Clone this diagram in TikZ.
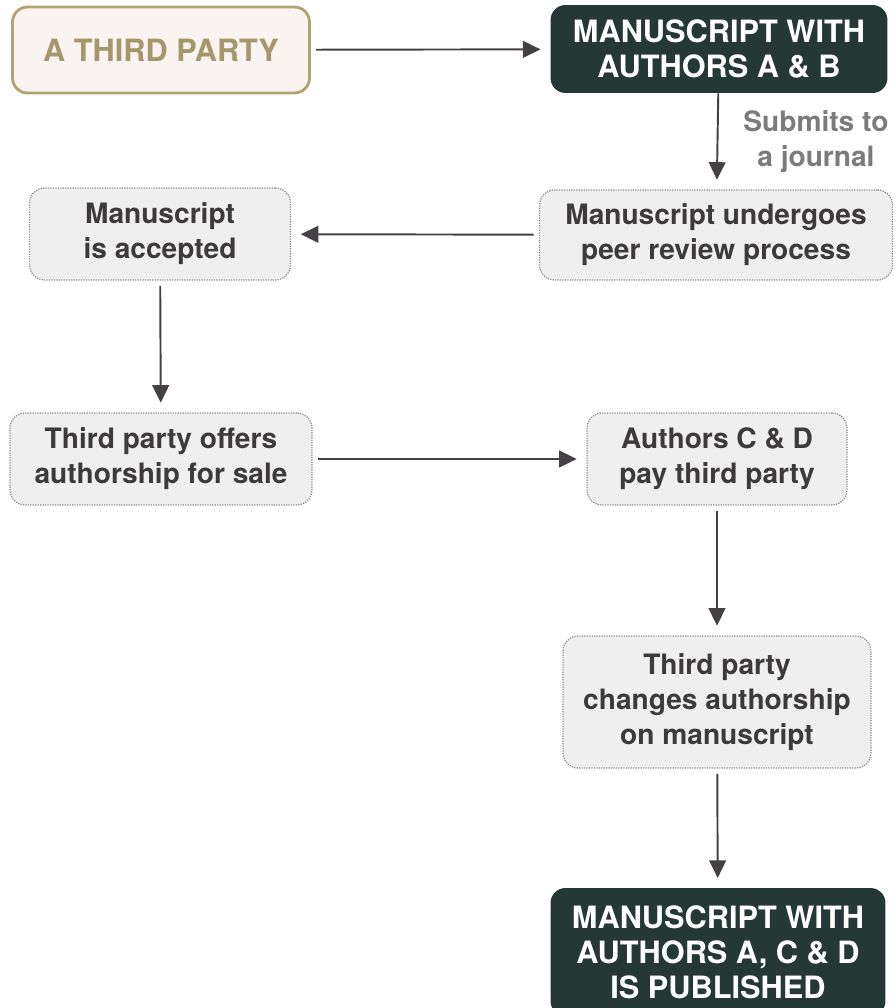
\documentclass[tikz,border=0pt]{standalone}
\usepackage{fontspec}
\setmainfont{TeX Gyre Heros}
\usetikzlibrary{arrows.meta}
\definecolor{darkbox}{HTML}{243835}
\definecolor{partyfill}{HTML}{F9F3F2}
\definecolor{partyline}{HTML}{B3A36E}
\definecolor{partytext}{HTML}{A6976A}
\definecolor{stepfill}{HTML}{EFEFEF}
\definecolor{stepline}{HTML}{8A8A8A}
\definecolor{steptext}{HTML}{3D3A3B}
\definecolor{arrowcol}{HTML}{454043}
\definecolor{labelcol}{HTML}{7B7B7B}
\begin{document}
\begin{tikzpicture}[x=0.02cm,y=-0.02cm,
    box/.style={rounded corners=0.3cm,align=center,inner sep=0pt,
      font=\bfseries\fontsize{17.5}{20}\selectfont},
    stepbox/.style={box,fill=stepfill,draw=stepline,line width=0.7pt,
      dash pattern=on 0.7pt off 0.7pt,text=steptext,
      font=\bfseries\fontsize{16}{20}\selectfont},
    darkbox/.style={box,fill=darkbox,text=white},
    flow/.style={draw=arrowcol,line width=1.1pt,-{Triangle[length=10pt,width=9.5pt]},
      shorten <=3pt,shorten >=5.5pt}]
  \useasboundingbox (0,0) rectangle (895,1008);
  \clip (0,0) rectangle (895,1008);
  \node[box,fill=partyfill,draw=partyline,line width=1.6pt,text=partytext,
    minimum width=5.94cm,minimum height=1.72cm] (party) at (161,50) {A THIRD PARTY};
  \node[darkbox,minimum width=6.74cm,minimum height=1.76cm] (msab) at (719,49)
    {MANUSCRIPT WITH\\AUTHORS A \& B};
  \node[stepbox,minimum width=7.06cm,minimum height=1.8cm] (review) at (716,235)
    {Manuscript undergoes\\peer review process};
  \node[stepbox,minimum width=5.22cm,minimum height=1.84cm] (accepted) at (160,234)
    {Manuscript\\is accepted};
  \node[stepbox,minimum width=6.04cm,minimum height=1.84cm] (offers) at (161,459)
    {Third party offers\\authorship for sale};
  \node[stepbox,minimum width=5.2cm,minimum height=1.84cm] (pay) at (717,459)
    {Authors C \& D\\pay third party};
  \node[stepbox,minimum width=6.16cm,minimum height=2.64cm] (changes) at (717,702)
    {Third party\\changes authorship\\on manuscript};
  \node[darkbox,minimum width=6.7cm,minimum height=2.56cm] (published) at (718,952)
    {MANUSCRIPT WITH\\AUTHORS A, C \& D\\IS PUBLISHED};
  \draw[flow] (party) -- (msab);
  \draw[flow,shorten <=0pt] (msab) -- node[right=0.5cm,inner sep=0pt,align=center,text=labelcol,
    font=\bfseries\fontsize{16}{20}\selectfont] {Submits to\\a journal} (review);
  \draw[flow] (review) -- (accepted);
  \draw[flow] (accepted) -- (offers);
  \draw[flow] (offers) -- (pay);
  \draw[flow] (pay) -- (changes);
  \draw[flow] (changes) -- (published);
\end{tikzpicture}
\end{document}
